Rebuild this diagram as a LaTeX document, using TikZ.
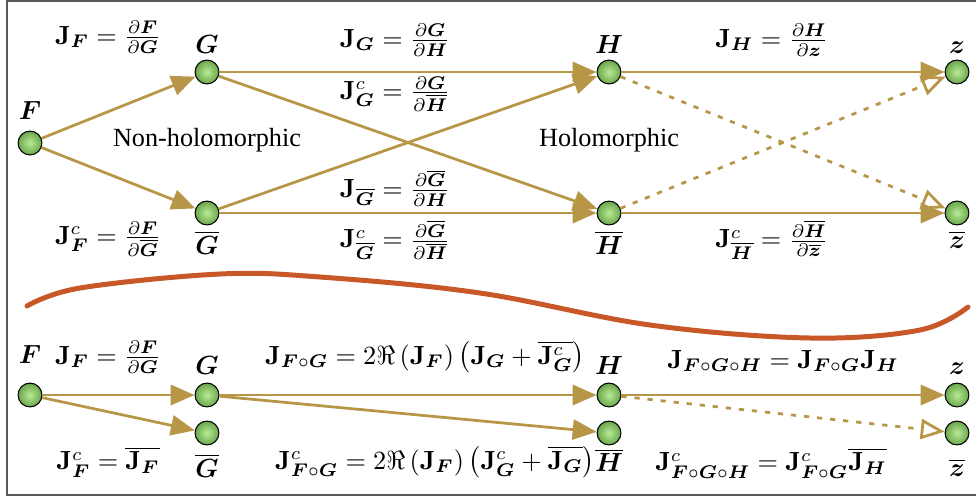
\documentclass[tikz,border=0pt]{standalone}
\usepackage{amssymb,amsmath}
\usepackage[no-math]{fontspec}
\setmainfont{Liberation Serif}
\usepackage{tikz}
\usetikzlibrary{arrows.meta, positioning}

\definecolor{gold}{RGB}{184,150,72}
\definecolor{greenin}{RGB}{185,235,150}
\definecolor{greenout}{RGB}{105,165,75}
\definecolor{rust}{RGB}{200,88,40}

\newcommand{\bv}[1]{\boldsymbol{#1}}
\newcommand{\bJ}{\mathbf{J}}

\begin{document}
\begin{tikzpicture}[
  x=0.0134cm, y=-0.0134cm,
  node distance=1pt,
  var/.style={draw, circle, inner color=greenin, outer color=greenout, minimum size=3.2mm, inner sep=0pt},
  lab/.style={inner sep=1pt},
  arr/.style={-{Triangle[length=3.2mm, width=2.7mm]}, line width=1.05pt, gold},
  darr/.style={-{Triangle[open, length=3.2mm, width=2.7mm]}, line width=1.05pt, gold, dash pattern=on 2pt off 3pt}
]
\useasboundingbox (0,0) rectangle (976,500);
\draw[black!65, line width=0.6pt] (976,1) -- (7,1) -- (7,495) -- (976,495);

% upper graph
\node[var] (F) at (30,143) {};
\node[var] (G) at (207,72) {};
\node[var] (Gb) at (207,213) {};
\node[var] (H) at (609,72) {};
\node[var] (Hb) at (609,213) {};
\node[var] (z) at (957,72) {};
\node[var] (zb) at (957,213) {};

\node[lab, above=3pt of F] (Flab) {$\bv{F}$};
\node[lab, above=of G] (Glab) {$\bv{G}$};
\node[lab, below=of Gb] (Gblab) {$\overline{\bv{G}}$};
\node[lab, above=of H] (Hlab) {$\bv{H}$};
\node[lab, below=of Hb] (Hblab) {$\overline{\bv{H}}$};
\node[lab, above=of z] (zlab) {$\bv{z}$};
\node[lab, below=of zb] (zblab) {$\overline{\bv{z}}$};

\node (nonholo) at (207,140) {Non-holomorphic};
\node (holo) at (609,140) {Holomorphic};

\node (jf) at (108,37) {$\bJ_{\bv F} = \frac{\partial \bv F}{\partial \bv G}$};
\node (jfc) at (108,239) {$\bJ^c_{\bv F} = \frac{\partial \bv F}{\partial \overline{\bv G}}$};
\node (jg) at (395,40) {$\bJ_{\bv G} = \frac{\partial \bv G}{\partial \bv H}$};
\node (jgc) at (395,94) {$\bJ^c_{\bv G} = \frac{\partial \bv G}{\partial \overline{\bv H}}$};
\node (jgb) at (395,188) {$\bJ_{\overline{\bv G}} = \frac{\partial \overline{\bv G}}{\partial \bv H}$};
\node (jgbc) at (395,240) {$\bJ^c_{\overline{\bv G}} = \frac{\partial \overline{\bv G}}{\partial \overline{\bv H}}$};
\node (jh) at (772,40) {$\bJ_{\bv H} = \frac{\partial \bv H}{\partial \bv z}$};
\node (jhc) at (772,240) {$\bJ^c_{\overline{\bv H}} = \frac{\partial \overline{\bv H}}{\partial \overline{\bv z}}$};

\draw[arr] (F) -- (G);
\draw[arr] (F) -- (Gb);
\draw[arr] (G) -- (H);
\draw[arr] (G) -- (Hb);
\draw[arr] (Gb) -- (H);
\draw[arr] (Gb) -- (Hb);
\draw[arr] (H) -- (z);
\draw[arr] (Hb) -- (zb);
\draw[darr] (H) -- (zb);
\draw[darr] (Hb) -- (z);

% divider
\draw[rust, line width=1.9pt, line cap=round] plot[smooth, tension=0.6] coordinates
  {(27,306) (80,288) (220,274) (320,277) (480,293) (650,325) (810,338) (920,330) (968,307)};

% lower graph
\node[var] (bF) at (30,395) {};
\node[var] (bG) at (207,395) {};
\node[var] (bGb) at (207,433) {};
\node[var] (bH) at (609,395) {};
\node[var] (bHb) at (609,433) {};
\node[var] (bz) at (957,395) {};
\node[var] (bzb) at (957,433) {};

\node[lab, above=6pt of bF] (bFlab) {$\bv{F}$};
\node[lab, above=2pt of bG] (bGlab) {$\bv{G}$};
\node[lab, below=2pt of bGb] (bGblab) {$\overline{\bv{G}}$};
\node[lab, above=2pt of bH] (bHlab) {$\bv{H}$};
\node[lab, below=0pt of bHb] (bHblab) {$\overline{\bv{H}}$};
\node[lab, above=2pt of bz] (bzlab) {$\bv{z}$};
\node[lab, below=4pt of bzb] (bzblab) {$\overline{\bv{z}}$};

\node (bjf) at (108,357) {$\bJ_{\bv F} = \frac{\partial \bv F}{\partial \bv G}$};
\node (bjfc) at (108,462) {$\bJ^c_{\bv F} = \overline{\bJ_{\bv F}}$};
\node (bjfg) at (425,357) {$\bJ_{\bv F\circ\bv G} = 2\Re\left(\bJ_{\bv F}\right)\left(\bJ_{\bv G} + \overline{\bJ^c_{\bv G}}\right)$};
\node (bjfgc) at (435,462) {$\bJ^c_{\bv F\circ\bv G} = 2\Re\left(\bJ_{\bv F}\right)\left(\bJ^c_{\bv G} + \overline{\bJ_{\bv G}}\right)$};
\node (bjfgh) at (783,361) {$\bJ_{\bv F\circ\bv G\circ\bv H} = \bJ_{\bv F\circ\bv G}\bJ_{\bv H}$};
\node (bjfghc) at (771,463) {$\bJ^c_{\bv F\circ\bv G\circ\bv H} = \bJ^c_{\bv F\circ\bv G}\overline{\bJ_{\bv H}}$};

\draw[arr] (bF) -- (bG);
\draw[arr] (bF) -- (bGb);
\draw[arr] (bG) -- (bH);
\draw[arr] (bG) -- (bHb);
\draw[arr] (bH) -- (bz);
\draw[darr] (bH) -- (bzb);

\end{tikzpicture}
\end{document}
